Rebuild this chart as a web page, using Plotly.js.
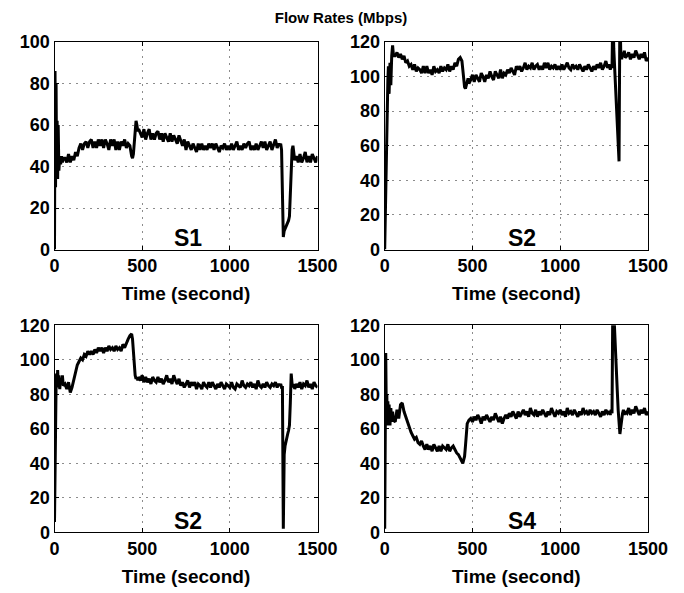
<!DOCTYPE html>
<html>
<head>
<meta charset="utf-8">
<script src="https://cdn.plot.ly/plotly-3.0.1.min.js"></script>
<style>html,body{margin:0;padding:0;background:#fff;}#chart{width:684px;height:593px;}</style>
</head>
<body>
<div id="chart"></div>
<script>
// ---- data ----
const timeSec = [
  0,3,6,9,12,15,18,21,25,30,35,40,45,50,
  60,70,80,90,100,110,120,130,140,150,
  160,170,180,190,200,210,220,230,240,250,
  260,270,280,290,300,310,320,330,340,350,
  360,370,380,390,400,410,420,
  430,440,445,450,455,460,465,470,475,480,
  490,500,510,520,530,540,550,560,570,580,
  590,600,610,620,630,640,650,660,670,680,
  690,700,710,720,730,740,750,760,770,780,
  790,800,810,820,830,840,850,860,870,880,
  890,900,910,920,930,940,950,960,970,980,
  990,1000,1010,1020,1030,1040,1050,1060,1070,1080,
  1090,1100,1110,1120,1130,1140,1150,1160,1170,1180,
  1190,1200,1210,1220,1230,1240,1250,1260,1270,1280,
  1285,1290,1295,1300,1305,1310,1315,1320,1325,1330,1335,1340,1345,1350,1355,1360,1365,1370,
  1380,1390,1400,1410,1420,1430,1440,1450,1460,1470,1480,1490,1500
];

const flowS1 = [
  0,86,30,80,35,62,34,60,38,45,41,45,42,44,
  44,42,46,42,45,43,47,45,49,51,
  48,51,52,49,52,53,49,52,49,53,
  50,53,49,53,51,48,53,50,53,48,
  52,48,52,50,53,49,51,
  50,45,44,46,53,59,62,60,57,58,
  56,54,58,53,56,58,53,56,53,56,
  57,53,56,52,56,54,52,56,52,55,
  53,51,55,52,50,53,48,52,50,48,
  51,49,47,51,48,51,48,50,48,51,
  49,51,48,51,49,47,50,49,51,48,
  50,48,51,48,50,52,48,50,48,51,
  49,51,52,48,50,48,51,48,50,52,
  49,52,48,50,52,48,51,53,49,51,
  50,51,48,15,6,9,10,11,12,13,14,16,28,45,48,50,46,43,
  45,42,46,42,44,47,42,45,42,46,44,42,45
];

const flowS2a = [
  0,20,35,50,70,85,98,106,90,108,95,112,118,112,
  112,114,111,113,110,112,108,109,106,107,
  104,107,103,105,104,102,106,102,106,102,
  104,101,106,103,104,102,106,103,105,104,
  107,103,106,104,108,106,110,
  111,109,104,98,94,93,95,97,99,96,
  98,101,97,101,99,97,102,100,97,101,
  99,103,100,98,103,101,99,104,99,102,
  101,104,102,105,103,101,106,104,106,103,
  105,108,104,106,105,108,104,106,107,104,
  106,104,108,105,108,104,106,105,107,104,
  106,104,107,104,106,108,105,104,107,105,
  106,104,107,105,103,106,104,107,105,103,
  106,104,107,105,108,104,106,109,105,107,
  104,106,105,140,116,104,92,80,68,57,51,140,113,110,114,112,115,111,
  112,114,110,113,111,115,112,110,113,111,114,109,111
];

const flowS2b = [
  6,40,70,85,92,84,94,86,91,83,89,86,91,85,
  86,83,87,81,84,88,93,97,99,101,
  100,103,102,105,103,105,103,106,104,107,
  105,107,104,107,105,108,106,107,105,108,
  106,107,105,109,107,110,112,
  114,115,112,104,95,91,89,90,88,90,
  88,91,87,90,87,89,86,90,88,87,
  90,87,89,86,88,91,87,89,86,91,
  88,86,89,85,87,84,86,88,84,87,
  85,87,83,86,85,83,87,85,84,87,
  84,87,85,83,86,84,87,85,83,86,
  85,84,87,84,83,86,85,84,88,85,
  84,86,85,87,84,86,83,88,85,84,
  86,84,87,85,84,86,85,87,84,86,
  85,86,84,84,2,45,50,53,55,57,59,62,75,92,86,84,86,83,
  86,84,87,83,86,85,88,84,86,83,87,85,84
];

const flowS4 = [
  2,50,104,70,80,62,76,63,74,62,72,64,70,65,
  64,71,66,74,75,70,67,64,60,58,
  56,54,55,52,51,53,50,48,51,48,
  50,47,51,49,47,50,47,50,49,48,
  51,47,49,50,48,46,45,
  43,41,40,42,44,50,58,63,64,65,
  66,64,67,65,68,66,63,67,65,68,
  66,64,67,65,69,66,64,67,63,66,
  68,66,69,67,70,68,66,70,67,69,
  71,68,70,67,72,69,68,71,67,70,
  68,71,69,67,70,68,72,69,67,70,
  69,71,68,70,67,72,69,70,68,71,
  69,67,70,68,72,69,70,68,71,69,
  70,68,71,69,67,70,68,71,69,70,
  68,71,69,140,126,115,104,93,82,71,62,57,61,66,69,71,68,70,
  69,72,68,71,69,73,70,68,71,69,72,68,70
];

const panelLabels = ['S1', 'S2', 'S2', 'S4'];
const xTickVals = [0, 500, 1000, 1500];
const yRanges = [[0, 100], [0, 120], [0, 120], [0, 120]];
const chartTitle = 'Flow Rates (Mbps)';
const xTitle = 'Time (second)';

// ---- chart ----
const series = [flowS1, flowS2a, flowS2b, flowS4];
const FONT = 'Liberation Sans, Arial, Helvetica, sans-serif';
const W = 684, H = 593;
const xDom = [[54.5 / W, 317.5 / W], [384.7 / W, 648 / W], [54.5 / W, 317.5 / W], [384.7 / W, 648 / W]];
const yDom = [[1 - 249.5 / H, 1 - 42 / H], [1 - 249.5 / H, 1 - 42 / H], [1 - 532.3 / H, 1 - 325.3 / H], [1 - 532.3 / H, 1 - 325.3 / H]];

const traces = series.map((s, i) => ({
  x: timeSec, y: s, type: 'scatter', mode: 'lines',
  xaxis: i === 0 ? 'x' : 'x' + (i + 1), yaxis: i === 0 ? 'y' : 'y' + (i + 1),
  line: { color: '#000', width: 3 }, hoverinfo: 'skip', showlegend: false
}));

const axBase = {
  showline: true, linecolor: '#000', linewidth: 1, mirror: 'ticks',
  ticks: 'inside', ticklen: 4, tickcolor: '#000',
  showgrid: true, gridcolor: '#8c8c8c', griddash: '2px,5px', gridwidth: 1,
  zeroline: false, fixedrange: true,
  tickfont: { family: FONT, size: 18, weight: 700, color: '#000' }
};

const layout = {
  width: W, height: H, paper_bgcolor: '#fff', plot_bgcolor: '#fff',
  margin: { l: 0, r: 0, t: 0, b: 0 },
  showlegend: false,
  title: { text: chartTitle, font: { family: FONT, size: 15, weight: 700, color: '#000' },
           x: 341 / W, xanchor: 'center', xref: 'container', y: 1 - 18 / H, yref: 'container', yanchor: 'middle' },
  annotations: []
};

for (let i = 0; i < 4; i++) {
  const xs = i === 0 ? '' : String(i + 1);
  layout['xaxis' + xs] = Object.assign({}, axBase, {
    domain: xDom[i], anchor: 'y' + xs, range: [0, 1500], tickvals: xTickVals,
    title: { text: xTitle, font: { family: FONT, size: 19, weight: 700, color: '#000' }, standoff: 11 }
  });
  layout['yaxis' + xs] = Object.assign({}, axBase, {
    domain: yDom[i], anchor: 'x' + xs, range: yRanges[i], dtick: 20, tick0: 0
  });
  layout.annotations.push({
    text: panelLabels[i], xref: 'x' + xs, yref: 'y' + xs,
    x: i % 2 === 0 ? 760 : 785, y: yRanges[i][1] * 0.055,
    xanchor: 'center', yanchor: 'middle', showarrow: false,
    font: { family: FONT, size: 23, weight: 700, color: '#000' }
  });
}

Plotly.newPlot('chart', traces, layout, { staticPlot: true, displayModeBar: false });
</script>
</body>
</html>
